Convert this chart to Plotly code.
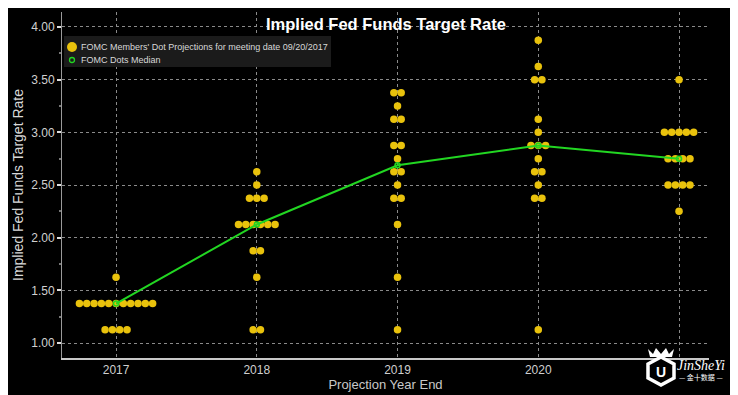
import plotly.graph_objects as go
from collections import Counter

years = [2017, 2018, 2019, 2020, 2021]
tick_labels = ["2017", "2018", "2019", "2020", ""]

dots_2017 = [1.625] + [1.375] * 11 + [1.125] * 4
dots_2018 = [2.625, 2.5] + [2.375] * 3 + [2.125] * 6 + [1.875] * 2 + [1.625] + [1.125] * 2
dots_2019 = [3.375] * 2 + [3.25] + [3.125] * 2 + [2.875] * 2 + [2.75] + [2.625] * 2 + [2.5] + [2.375] * 2 + [2.125, 1.625, 1.125]
dots_2020 = [3.875, 3.625] + [3.5] * 2 + [3.125, 3.0] + [2.875] * 3 + [2.75] + [2.625] * 2 + [2.5] + [2.375] * 2 + [1.125]
dots_longrun = [3.5] + [3.0] * 5 + [2.75] * 4 + [2.5] * 4 + [2.25]

medians = [1.375, 2.125, 2.6875, 2.875, 2.75]

legend_labels = ["FOMC Members' Dot Projections for meeting date 09/20/2017", "FOMC Dots Median"]

all_dots = [dots_2017, dots_2018, dots_2019, dots_2020, dots_longrun]
SPREAD = 0.052

xs, ys = [], []
for yr, dots in zip(years, all_dots):
    counts = Counter(dots)
    for val, n in counts.items():
        for i in range(n):
            xs.append(yr + (i - (n - 1) / 2) * SPREAD)
            ys.append(val)

GOLD = "#E9C20C"
GREEN = "#22D622"
FONT = "Liberation Sans, Arial, sans-serif"

# page body has an 8px offset; work in viewport pixels
OFF = 8
W, H = 738, 395
PL, PR, PT, PB = 62, 709, 12, 358  # plot box in viewport pixels
PW, PH = PR - PL, PB - PT
ML, MT = PL - OFF, PT - OFF
MR, MB = W - ML - PW, H - MT - PH


def px(xp):
    return (xp - PL) / PW


def py(yp):
    return (PB - yp) / PH


def path(points):
    return "M " + " L ".join(f"{px(a):.5f},{py(b):.5f}" for a, b in points) + " Z"


hexagon = [(661, 357), (674, 364), (674, 378), (661, 385), (648, 378), (648, 364)]
crown = [(648, 349), (653, 354), (656, 348), (661, 354), (666, 348), (669, 354), (674, 349), (672, 357), (650, 357)]

fig = go.Figure()
fig.add_trace(go.Scatter(
    x=xs, y=ys, mode="markers",
    marker=dict(color=GOLD, size=7.5, line=dict(width=0)),
    name=legend_labels[0], showlegend=False,
))
fig.add_trace(go.Scatter(
    x=years, y=medians, mode="lines+markers",
    line=dict(color=GREEN, width=2),
    marker=dict(color=GREEN, size=5, symbol="circle-open", line=dict(width=1.5)),
    name=legend_labels[1], showlegend=False,
))

shapes = [
    dict(type="rect", xref="paper", yref="paper", x0=px(64), x1=px(331), y0=py(67), y1=py(36),
         fillcolor="#1b1b1b", line=dict(width=0), layer="above"),
    dict(type="circle", xref="paper", yref="paper", x0=px(67), x1=px(77), y0=py(52), y1=py(42),
         fillcolor=GOLD, line=dict(width=0), layer="above"),
    dict(type="circle", xref="paper", yref="paper", x0=px(69.5), x1=px(74.5), y0=py(62.5), y1=py(57.5),
         fillcolor="rgba(0,0,0,0)", line=dict(width=1.3, color=GREEN), layer="above"),
    dict(type="path", xref="paper", yref="paper", path=path(hexagon),
         fillcolor="black", line=dict(width=3.5, color="white"), layer="above"),
    dict(type="path", xref="paper", yref="paper", path=path(crown),
         fillcolor="white", line=dict(width=0), layer="above"),
]

annotations = [
    dict(text="<b>Implied Fed Funds Target Rate</b>", x=px(386), y=py(24),
         xref="paper", yref="paper", xanchor="center", yanchor="middle",
         showarrow=False, font=dict(size=16.5, color="white", family=FONT)),
    dict(text=legend_labels[0], x=px(79), y=py(47), xref="paper", yref="paper",
         xanchor="left", yanchor="middle", showarrow=False,
         font=dict(size=9, color="#d8d8d8", family=FONT)),
    dict(text=legend_labels[1], x=px(79), y=py(60), xref="paper", yref="paper",
         xanchor="left", yanchor="middle", showarrow=False,
         font=dict(size=9, color="#d8d8d8", family=FONT)),
    dict(text="<b>U</b>", x=px(661), y=py(372), xref="paper", yref="paper",
         xanchor="center", yanchor="middle", showarrow=False,
         font=dict(size=14, color="white", family=FONT)),
    dict(text="<i>JinSheYi</i>", x=px(701), y=py(365), xref="paper", yref="paper",
         xanchor="center", yanchor="middle", showarrow=False,
         font=dict(size=14, color="white", family="Liberation Serif, serif")),
    dict(text="— 金十数据 —", x=px(701), y=py(377), xref="paper", yref="paper",
         xanchor="center", yanchor="middle", showarrow=False,
         font=dict(size=7, color="white", family="Noto Sans CJK SC, sans-serif")),
]

fig.update_layout(
    width=W, height=H, autosize=False,
    paper_bgcolor="black", plot_bgcolor="black",
    margin=dict(l=ML, r=MR, t=MT, b=MB),
    font=dict(family=FONT, color="#d0d0d0", size=12),
    showlegend=False,
    shapes=shapes,
    annotations=annotations,
    xaxis=dict(
        range=[2016.616, 2021.213], automargin=False,
        tickvals=years, ticktext=tick_labels,
        showgrid=True, gridcolor="#8a8a8a", griddash="dot", gridwidth=1,
        showline=True, linecolor="#c8c8c8", linewidth=1.5,
        ticks="", zeroline=False,
        tickfont=dict(size=12, color="#cfcfcf"),
        title=dict(text="Projection Year End", font=dict(size=13, color="#c8c8c8"), standoff=4),
    ),
    yaxis=dict(
        range=[0.858, 4.142], automargin=False,
        tickvals=[1.0, 1.5, 2.0, 2.5, 3.0, 3.5, 4.0], tickformat=".2f",
        showgrid=True, gridcolor="#8a8a8a", griddash="dot", gridwidth=1,
        showline=True, linecolor="#9a9a9a", linewidth=1,
        ticks="outside", ticklen=4, tickcolor="#dddddd", tickwidth=1.5,
        minor=dict(dtick=0.25, ticks="outside", ticklen=2, tickcolor="#777777", showgrid=False),
        zeroline=False,
        tickfont=dict(size=12, color="#d0d0d0"),
        title=dict(text="Implied Fed Funds Target Rate", font=dict(size=14, color="#d8d8d8"), standoff=4),
    ),
)

fig.write_html("out.html")
